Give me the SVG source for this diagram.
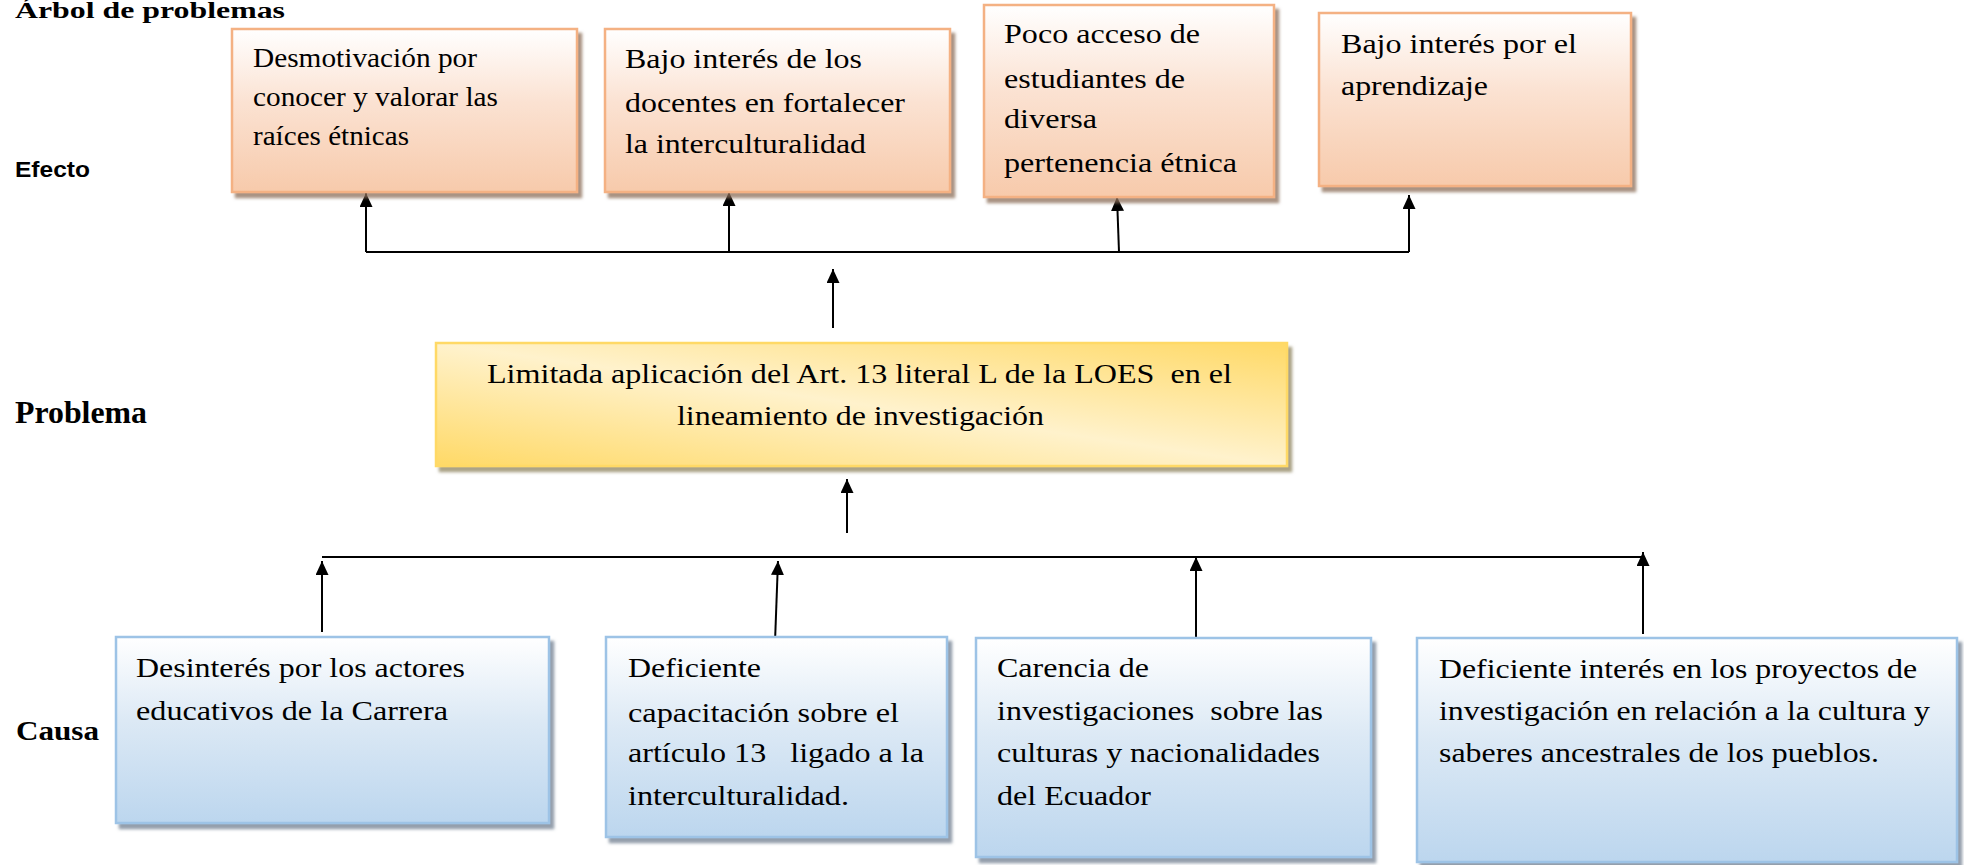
<svg xmlns="http://www.w3.org/2000/svg" width="1964" height="865" viewBox="0 0 1964 865">
<style>
.lbl{font-family:"Liberation Serif","Times New Roman",serif;font-weight:bold;fill:#000}
.lbls{font-family:"Liberation Sans",Arial,sans-serif;font-weight:bold;fill:#000}
.t{font-family:"Liberation Serif","Times New Roman",serif;font-size:27px;fill:#000;white-space:pre}
.eff{fill:url(#gPeach);stroke:#f4b183;stroke-width:2.5;filter:url(#shBrown)}
.prob{fill:url(#gGold);stroke:#ffd966;stroke-width:2.5;filter:url(#shGold)}
.cau{fill:url(#gBlue);stroke:#9dc3e6;stroke-width:2.5;filter:url(#shBlue)}
.ln{fill:none;stroke:#000;stroke-width:2}
.ar{fill:none;stroke:#000;stroke-width:2;marker-end:url(#ah)}
</style>
<defs>
<linearGradient id="gPeach" x1="0" y1="0" x2="0" y2="1">
<stop offset="0" stop-color="#ffffff"/><stop offset="0.45" stop-color="#fbe2d2"/><stop offset="1" stop-color="#f7caab"/>
</linearGradient>
<linearGradient id="gBlue" x1="0" y1="0" x2="0" y2="1">
<stop offset="0" stop-color="#ffffff"/><stop offset="0.45" stop-color="#dce9f5"/><stop offset="1" stop-color="#bcd6ee"/>
</linearGradient>
<linearGradient id="gGold" x1="1" y1="0" x2="0" y2="1">
<stop offset="0" stop-color="#ffd966"/><stop offset="0.5" stop-color="#fff2cc"/><stop offset="1" stop-color="#ffd966"/>
</linearGradient>
<filter id="shBrown" x="-5%" y="-5%" width="115%" height="120%"><feDropShadow dx="4" dy="5" stdDeviation="1.5" flood-color="#8c6e5a" flood-opacity="0.75"/></filter>
<filter id="shGold" x="-5%" y="-5%" width="115%" height="120%"><feDropShadow dx="4" dy="5" stdDeviation="1.5" flood-color="#8f8460" flood-opacity="0.75"/></filter>
<filter id="shBlue" x="-5%" y="-5%" width="115%" height="120%"><feDropShadow dx="4" dy="5" stdDeviation="1.5" flood-color="#6f7f90" flood-opacity="0.75"/></filter>
<marker id="ah" markerUnits="userSpaceOnUse" markerWidth="16" markerHeight="14" refX="14" refY="6.5" orient="auto">
<path d="M0,0 L14,6.5 L0,13 Z" fill="#000"/>
</marker>
</defs>

<g id="labels">
<text class="lbl" x="15" y="18" font-size="24" textLength="270" lengthAdjust="spacingAndGlyphs">Árbol de problemas</text>
<text class="lbls" x="15" y="177" font-size="22" textLength="75" lengthAdjust="spacingAndGlyphs">Efecto</text>
<text class="lbl" x="15" y="423" font-size="31" textLength="132" lengthAdjust="spacingAndGlyphs">Problema</text>
<text class="lbl" x="16" y="740" font-size="28" textLength="83" lengthAdjust="spacingAndGlyphs">Causa</text>
</g>

<g id="connectors">
<path class="ln" d="M366,252 H1409"/>
<path class="ar" d="M366,252 V193"/>
<path class="ar" d="M729,252 V192"/>
<path class="ar" d="M1119,252 L1117,197"/>
<path class="ar" d="M1409,252 V195"/>
<path class="ar" d="M833,328 V269"/>
<path class="ar" d="M847,533 V479"/>
<path class="ln" d="M322,557 H1644"/>
<path class="ar" d="M322,632 V561"/>
<path class="ar" d="M775,642 L778,561"/>
<path class="ar" d="M1196,639 V557"/>
<path class="ar" d="M1643,634 V552"/>
</g>

<g id="efecto1">
<rect class="eff" x="232" y="29" width="345" height="163"/>
<text class="t" x="253" y="67" font-size="24" textLength="224" lengthAdjust="spacingAndGlyphs">Desmotivación por</text>
<text class="t" x="253" y="106" font-size="24" textLength="245" lengthAdjust="spacingAndGlyphs">conocer y valorar las</text>
<text class="t" x="253" y="145" font-size="24" textLength="156" lengthAdjust="spacingAndGlyphs">raíces étnicas</text>
</g>

<g id="efecto2">
<rect class="eff" x="605" y="29" width="345" height="163"/>
<text class="t" x="625" y="68" textLength="237" lengthAdjust="spacingAndGlyphs">Bajo interés de los</text>
<text class="t" x="625" y="112" textLength="280" lengthAdjust="spacingAndGlyphs">docentes en fortalecer</text>
<text class="t" x="625" y="153" textLength="241" lengthAdjust="spacingAndGlyphs">la interculturalidad</text>
</g>

<g id="efecto3">
<rect class="eff" x="984" y="5" width="290" height="192"/>
<text class="t" x="1004" y="43" textLength="196" lengthAdjust="spacingAndGlyphs">Poco acceso de</text>
<text class="t" x="1004" y="88" textLength="181" lengthAdjust="spacingAndGlyphs">estudiantes de</text>
<text class="t" x="1004" y="128" textLength="93" lengthAdjust="spacingAndGlyphs">diversa</text>
<text class="t" x="1004" y="172" textLength="233" lengthAdjust="spacingAndGlyphs">pertenencia étnica</text>
</g>

<g id="efecto4">
<rect class="eff" x="1319" y="13" width="312" height="173"/>
<text class="t" x="1341" y="53" textLength="236" lengthAdjust="spacingAndGlyphs">Bajo interés por el</text>
<text class="t" x="1341" y="95" textLength="147" lengthAdjust="spacingAndGlyphs">aprendizaje</text>
</g>

<g id="problema">
<rect class="prob" x="436" y="343" width="851" height="123"/>
<text class="t" x="487" y="383" textLength="745" lengthAdjust="spacingAndGlyphs">Limitada aplicación del Art. 13 literal L de la LOES  en el</text>
<text class="t" x="677" y="425" textLength="367" lengthAdjust="spacingAndGlyphs">lineamiento de investigación</text>
</g>

<g id="causa1">
<rect class="cau" x="116" y="637" width="433" height="186"/>
<text class="t" x="136" y="677" textLength="329" lengthAdjust="spacingAndGlyphs">Desinterés por los actores</text>
<text class="t" x="136" y="720" textLength="312" lengthAdjust="spacingAndGlyphs">educativos de la Carrera</text>
</g>

<g id="causa2">
<rect class="cau" x="606" y="637" width="341" height="200"/>
<text class="t" x="628" y="677" textLength="133" lengthAdjust="spacingAndGlyphs">Deficiente</text>
<text class="t" x="628" y="722" textLength="271" lengthAdjust="spacingAndGlyphs">capacitación sobre el</text>
<text class="t" x="628" y="762" textLength="296" lengthAdjust="spacingAndGlyphs">artículo 13   ligado a la</text>
<text class="t" x="628" y="805" textLength="221" lengthAdjust="spacingAndGlyphs">interculturalidad.</text>
</g>

<g id="causa3">
<rect class="cau" x="976" y="638" width="395" height="219"/>
<text class="t" x="997" y="677" textLength="152" lengthAdjust="spacingAndGlyphs">Carencia de</text>
<text class="t" x="997" y="720" textLength="326" lengthAdjust="spacingAndGlyphs">investigaciones  sobre las</text>
<text class="t" x="997" y="762" textLength="323" lengthAdjust="spacingAndGlyphs">culturas y nacionalidades</text>
<text class="t" x="997" y="805" textLength="154" lengthAdjust="spacingAndGlyphs">del Ecuador</text>
</g>

<g id="causa4">
<rect class="cau" x="1417" y="638" width="540" height="224"/>
<text class="t" x="1439" y="678" textLength="478" lengthAdjust="spacingAndGlyphs">Deficiente interés en los proyectos de</text>
<text class="t" x="1439" y="720" textLength="491" lengthAdjust="spacingAndGlyphs">investigación en relación a la cultura y</text>
<text class="t" x="1439" y="762" textLength="440" lengthAdjust="spacingAndGlyphs">saberes ancestrales de los pueblos.</text>
</g>
</svg>
